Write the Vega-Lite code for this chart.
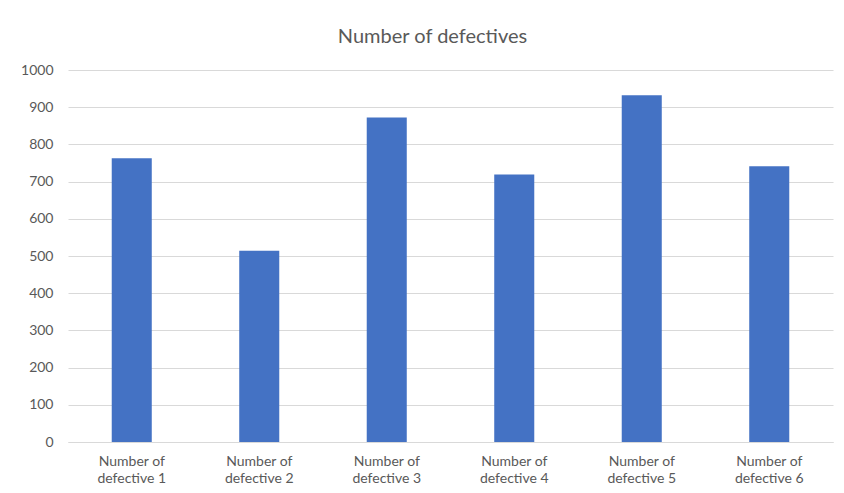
{
  "$schema": "https://vega.github.io/schema/vega-lite/v6.json",
  "autosize": {"type": "none"},
  "width": 765,
  "height": 372,
  "padding": {"left": 68, "top": 70, "right": 11, "bottom": 51},
  "background": "white",
  "title": {
    "text": "Number of defectives",
    "fontSize": 20,
    "font": "Lato",
    "fontWeight": "normal",
    "color": "#595959",
    "anchor": "middle",
    "dx": -18,
    "offset": 16
  },
  "data": {
    "values": [
      {"category": "Number of defective 1", "value": 763},
      {"category": "Number of defective 2", "value": 514},
      {"category": "Number of defective 3", "value": 872},
      {"category": "Number of defective 4", "value": 719},
      {"category": "Number of defective 5", "value": 932},
      {"category": "Number of defective 6", "value": 741}
    ]
  },
  "mark": {"type": "bar", "color": "#4472C4"},
  "encoding": {
    "x": {
      "field": "category",
      "type": "nominal",
      "sort": null,
      "scale": {"paddingInner": 0.686, "paddingOuter": 0.343},
      "axis": {
        "title": null,
        "labelAngle": 0,
        "labelExpr": "['Number of', replace(datum.label, 'Number of ', '')]",
        "labelFont": "Lato",
        "labelFontSize": 14,
        "labelColor": "#595959",
        "labelLineHeight": 17,
        "labelPadding": 12,
        "ticks": false,
        "domainColor": "#d9d9d9",
        "domainWidth": 1
      }
    },
    "y": {
      "field": "value",
      "type": "quantitative",
      "scale": {"domain": [0, 1000], "nice": false},
      "axis": {
        "title": null,
        "format": "d",
        "values": [0, 100, 200, 300, 400, 500, 600, 700, 800, 900, 1000],
        "labelFont": "Lato",
        "labelFontSize": 14,
        "labelColor": "#595959",
        "labelPadding": 15,
        "ticks": false,
        "domain": false,
        "gridColor": "#d9d9d9",
        "gridWidth": 1
      }
    }
  },
  "config": {"view": {"stroke": null}}
}
